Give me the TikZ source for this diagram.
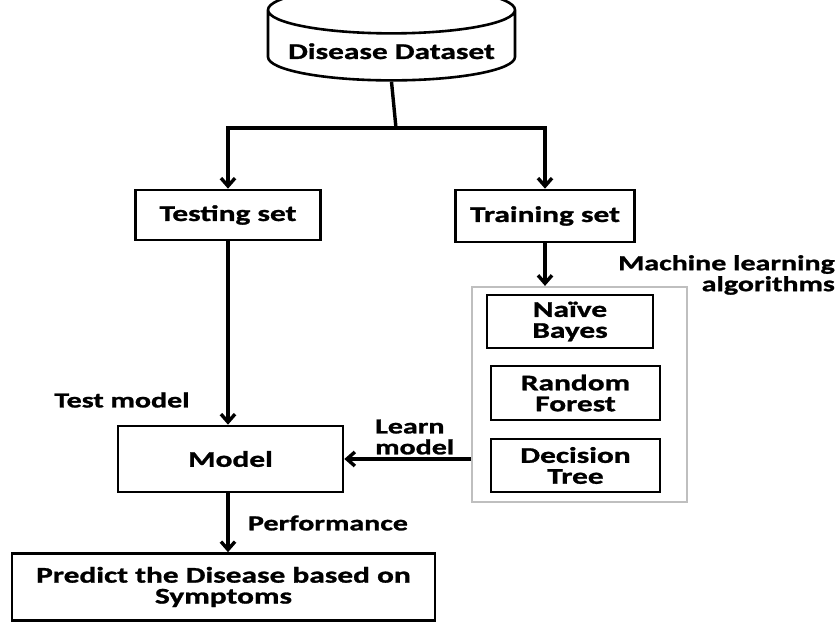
\documentclass[tikz,border=0pt]{standalone}
\usepackage{fontspec}
\setmainfont{Carlito}[FakeStretch=1.4,FakeBold=1.2]
\usepackage{tikz}
\usetikzlibrary{arrows.meta,positioning,calc,shapes.geometric}
\tikzset{
  stepbox/.style={draw,line width=2.6bp,fill=white,align=center,
    inner sep=0pt,font=\fontsize{22.5}{21}\selectfont\bfseries},
  algobox/.style={stepbox,line width=2.3bp},
  groupbox/.style={draw=black!25,line width=2.2bp,inner sep=0pt},
  dbshape/.style={cylinder,shape border rotate=90,aspect=0.22,draw,
    line width=2.6bp,text height=21bp,text depth=0bp,
    font=\fontsize{22.5}{21}\selectfont\bfseries},
  flowline/.style={draw=black,line width=3.4bp},
  flowarrow/.style={flowline,-{Straight Barb[length=8bp,width=14bp]}},
  flowlabel/.style={inner sep=0pt,align=center,
    font=\fontsize{21.5}{21}\selectfont\bfseries},
}
\begin{document}
\begin{tikzpicture}[x=1bp,y=-1bp]
  \useasboundingbox (0,0) rectangle (835,622);
  % data source
  \node[dbshape,minimum width=247bp,minimum height=83bp] (dataset) at (391.5,48.5)
    {Disease Dataset};
  \coordinate (split) at (396,128);
  % split into sets
  \node[stepbox,minimum width=185bp,minimum height=50bp] (testing) at (228,215)
    {Testing set};
  \node[stepbox,minimum width=179bp,minimum height=52bp] (training) at (545,216)
    {Training set};
  % algorithms
  \node[groupbox,minimum width=215bp,minimum height=215bp] (algos) at (579.5,394.5) {};
  \node[algobox,minimum width=166bp,minimum height=53bp] (bayes) at (570,321.5)
    {Naïve\\Bayes};
  \node[algobox,minimum width=169bp,minimum height=54bp] (forest) at (575.5,393)
    {Random\\Forest};
  \node[algobox,minimum width=169bp,minimum height=53bp] (tree) at (575.5,465.5)
    {Decision\\Tree};
  % model and output
  \node[stepbox,minimum width=225bp,minimum height=66bp] (model) at (230.5,459)
    {Model};
  \node[stepbox,minimum width=423bp,minimum height=67bp] (predict) at (223.5,587)
    {Predict the Disease based on\\Symptoms};
  % labels
  \node[flowlabel,anchor=east,align=right] (mllabel) at (835,275)
    {Machine learning\\algorithms};
  \node[flowlabel] (testlabel) at (122,400) {Test model};
  \node[flowlabel,anchor=west,align=left] (learnlabel) at (375,437)
    {Learn\\model};
  \node[flowlabel] (perflabel) at (328,523) {Performance};
  % connectors
  \draw[flowline] (dataset.south) -- (split);
  \draw[flowarrow] (split) -| (testing.north);
  \draw[flowarrow] (split) -| (training.north);
  \draw[flowarrow] (training) -- (training.south |- algos.north);
  \draw[flowarrow] (testing.south) -- (testing.south |- model.north);
  \draw[flowarrow] (algos.west |- model.east) -- (model.east);
  \draw[flowarrow] (model.south -| testing.south) -- (testing.south |- predict.north);
\end{tikzpicture}
\end{document}
